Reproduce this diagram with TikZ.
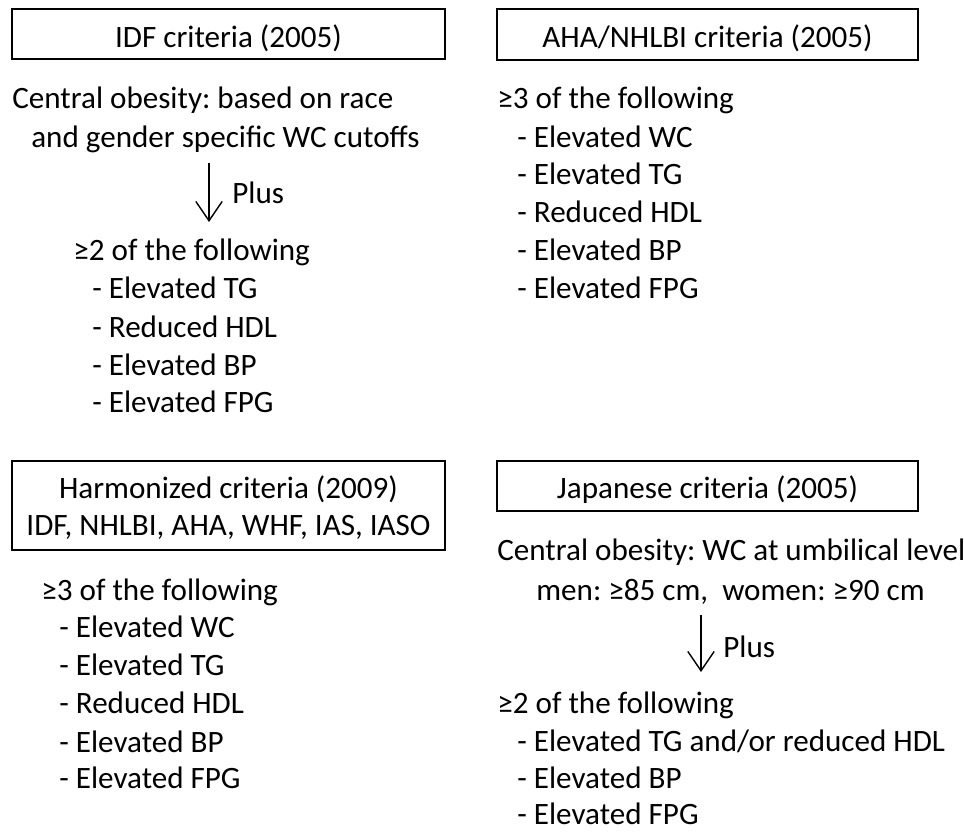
\documentclass[tikz,border=0pt]{standalone}
\usepackage{fontspec}
\setmainfont{Carlito}
\frenchspacing
\usepackage{tikz}
\usetikzlibrary{arrows.meta,positioning}

\begin{document}
\begin{tikzpicture}[x=0.02cm,y=-0.02cm,
  txt/.style={anchor=base west,inner sep=0pt,font=\fontsize{17.7}{21}\selectfont},
  titlebox/.style={draw,line width=1.1pt},
  plusarrow/.style={line width=0.8pt,-{Straight Barb[length=11pt,width=15pt,line width=0.8pt]}}]
\useasboundingbox (0,0) rectangle (964,832);
% Panel coordinates in pixels of the original figure (y downwards)

% IDF criteria (2005)
\draw[titlebox] (12,9) rectangle (445,59);
\node[txt,anchor=base] (idfT) at (228.5,47) {IDF criteria (2005)};
\node[txt] (idf1) at (12,108) {Central obesity: based on race};
\node[txt] (idf2) at (31,147) {and gender specific WC cutoffs};
\coordinate (idfA) at (209,163);
\coordinate (idfB) at (209,222);
\draw[plusarrow] (idfA) -- (idfB);
\node[txt] (idfP) at (232,203) {Plus};
\node[txt] (idf3) at (73,260) {≥2 of the following};
\foreach \i/\t/\y in {1/Elevated TG/298,2/Reduced HDL/337,3/Elevated BP/375,4/Elevated FPG/412} {
  \node[txt] (idfL\i) at (92,\y) {- \t};
}

% AHA/NHLBI criteria (2005)
\draw[titlebox] (497,9) rectangle (918,60);
\node[txt,anchor=base] (ahaT) at (707.5,47) {AHA/NHLBI criteria (2005)};
\node[txt] (aha1) at (497,108) {≥3 of the following};
\foreach \i/\t/\y in {1/Elevated WC/147,2/Elevated TG/184,3/Reduced HDL/222,4/Elevated BP/260,5/Elevated FPG/298} {
  \node[txt] (ahaL\i) at (517,\y) {- \t};
}

% Harmonized criteria (2009)
\draw[titlebox] (12,461) rectangle (445,550);
\node[txt,anchor=base] (harT1) at (228.5,498) {Harmonized criteria (2009)};
\node[txt,anchor=base] (harT2) at (228.5,535) {IDF, NHLBI, AHA, WHF, IAS, IASO};
\node[txt] (har1) at (41,600) {≥3 of the following};
\foreach \i/\t/\y in {1/Elevated WC/637,2/Elevated TG/675,3/Reduced HDL/713,4/Elevated BP/752,5/Elevated FPG/788} {
  \node[txt] (harL\i) at (59,\y) {- \t};
}

% Japanese criteria (2005)
\draw[titlebox] (497,461) rectangle (918,511);
\node[txt,anchor=base] (jpnT) at (707.5,498) {Japanese criteria (2005)};
\node[txt] (jpn1) at (497,560) {Central obesity: WC at umbilical level};
\node[txt] (jpn2) at (536,600) {men: ≥85 cm,\ \ women: ≥90 cm};
\coordinate (jpnA) at (701,615);
\coordinate (jpnB) at (701,672);
\draw[plusarrow] (jpnA) -- (jpnB);
\node[txt] (jpnP) at (723,657) {Plus};
\node[txt] (jpn3) at (497,713) {≥2 of the following};
\foreach \i/\t/\y in {1/{Elevated TG and/or reduced HDL}/751,2/Elevated BP/788,3/Elevated FPG/824} {
  \node[txt] (jpnL\i) at (517,\y) {- \t};
}
\end{tikzpicture}
\end{document}
